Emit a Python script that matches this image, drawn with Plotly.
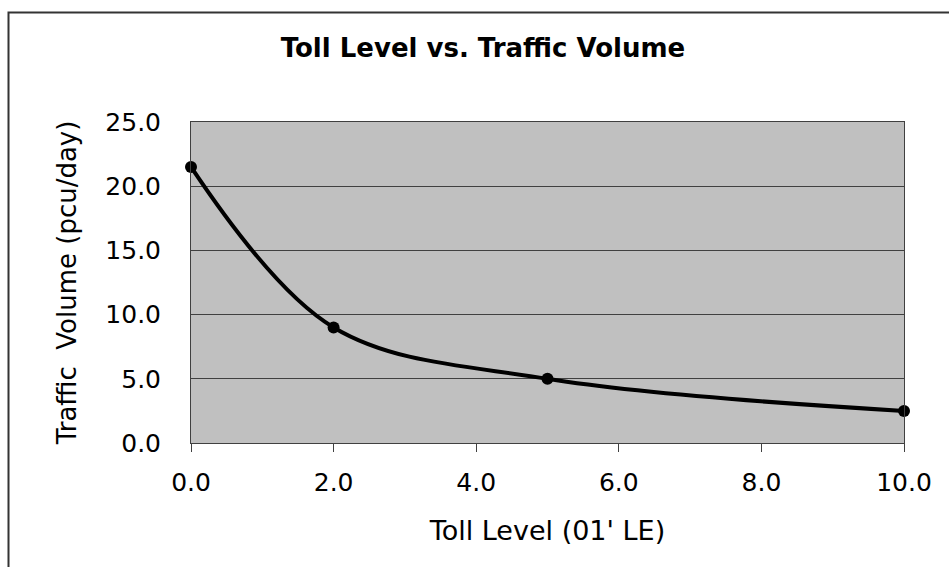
import plotly.graph_objects as go

# Toll level (01' LE) and resulting traffic volume (pcu/day)
toll_level = [0.0, 2.0, 5.0, 10.0]
traffic_volume = [21.5, 9.0, 5.0, 2.5]

x_ticks = [0, 2, 4, 6, 8, 10]
x_tick_labels = ["0.0", "2.0", "4.0", "6.0", "8.0", "10.0"]
y_ticks = [0, 5, 10, 15, 20, 25]
y_tick_labels = ["0.0", "5.0", "10.0", "15.0", "20.0", "25.0"]

W, H = 949, 567
L, R, T, B = 191, 45, 122, 124
pw, ph = W - L - R, H - T - B

def px_to_paper_x(px):
    return (px - L) / pw

def px_to_paper_y(py):
    return (H - B - py) / ph

FONT = "DejaVu Sans, Verdana, sans-serif"
GRID = "#404040"

fig = go.Figure()
fig.add_trace(go.Scatter(
    x=toll_level, y=traffic_volume,
    mode="lines+markers",
    line=dict(color="black", width=4, shape="spline", smoothing=1.0),
    marker=dict(color="black", size=12),
    showlegend=False,
    cliponaxis=False,
))

fig.update_layout(
    width=W, height=H,
    margin=dict(l=L, r=R, t=T, b=B),
    paper_bgcolor="white",
    plot_bgcolor="#C0C0C0",
    font=dict(family=FONT, color="black"),
    title=dict(
        text="<b>Toll Level vs. Traffic Volume</b>",
        font=dict(size=26, family=FONT, color="black"),
        x=px_to_paper_x(483), xref="paper", xanchor="center",
        y=1 - 48 / H, yref="container", yanchor="middle",
    ),
    xaxis=dict(
        range=[0, 10], tickvals=x_ticks, ticktext=x_tick_labels,
        showgrid=False, zeroline=False,
        ticks="outside", ticklen=8, tickcolor=GRID, tickwidth=1,
        tickfont=dict(size=25, family=FONT),
        ticklabelstandoff=9,
        showline=True, linecolor=GRID, linewidth=1, mirror=True,
        title=dict(text="Toll Level (01' LE)", font=dict(size=27, family=FONT), standoff=25),
    ),
    yaxis=dict(
        range=[0, 25], tickvals=y_ticks, ticktext=y_tick_labels,
        showgrid=True, gridcolor=GRID, gridwidth=1, zeroline=False,
        ticks="inside", ticklen=8, tickcolor=GRID, tickwidth=1,
        tickfont=dict(size=25, family=FONT),
        ticklabelstandoff=24,
        showline=True, linecolor=GRID, linewidth=1, mirror=True,
        title=dict(text="Traffic  Volume (pcu/day)", font=dict(size=26, family=FONT), standoff=21),
    ),
    shapes=[
        # outer chart-area frame
        dict(type="rect", xref="paper", yref="paper",
             x0=px_to_paper_x(8.5), x1=px_to_paper_x(W + 20),
             y0=px_to_paper_y(H + 20), y1=px_to_paper_y(12.5),
             line=dict(color="#333333", width=2), fillcolor="rgba(0,0,0,0)", layer="below"),
    ],
)

fig.write_html("out.html")
